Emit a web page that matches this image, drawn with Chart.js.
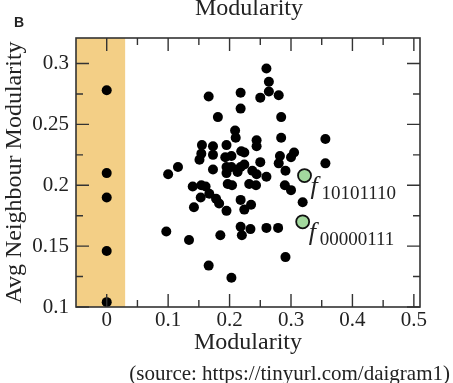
<!DOCTYPE html>
<html>
<head>
<meta charset="utf-8">
<script src="https://cdn.jsdelivr.net/npm/chart.js@4"></script>
<style>
  html, body { margin: 0; padding: 0; background: #fff; }
</style>
</head>
<body>
<canvas id="chart" width="453" height="383"></canvas>
<script>
// network modularity vs average modularity of neighbours
const modularity = [
  0, 0, 0, 0, 0,
  0.260, 0.264, 0.264, 0.250, 0.280, 0.166, 0.218, 0.218, 0.181, 0.284,
  0.209, 0.210, 0.284, 0.356, 0.244, 0.244, 0.155, 0.173, 0.195, 0.154,
  0.151, 0.173, 0.193, 0.203, 0.219, 0.224, 0.282, 0.305, 0.300, 0.250,
  0.280, 0.356, 0.116, 0.100, 0.173, 0.195, 0.203, 0.218, 0.224, 0.213,
  0.237, 0.244, 0.260, 0.291, 0.140, 0.154, 0.161, 0.153, 0.167, 0.178,
  0.183, 0.195, 0.142, 0.195, 0.197, 0.204, 0.232, 0.243, 0.218, 0.224,
  0.235, 0.290, 0.300, 0.319, 0.097, 0.134, 0.185, 0.218, 0.220, 0.234,
  0.260, 0.279, 0.291, 0.166, 0.203
];
const neighbourMod = [
  0.278, 0.210, 0.190, 0.146, 0.104,
  0.296, 0.285, 0.277, 0.272, 0.274, 0.273, 0.276, 0.263, 0.256, 0.256,
  0.245, 0.239, 0.239, 0.238, 0.237, 0.232, 0.233, 0.232, 0.233, 0.226,
  0.221, 0.225, 0.223, 0.224, 0.228, 0.227, 0.224, 0.227, 0.223, 0.219,
  0.218, 0.218, 0.215, 0.209, 0.213, 0.215, 0.215, 0.215, 0.217, 0.211,
  0.212, 0.209, 0.207, 0.212, 0.199, 0.200, 0.199, 0.190, 0.193, 0.189,
  0.185, 0.179, 0.182, 0.210, 0.201, 0.200, 0.201, 0.200, 0.188, 0.180,
  0.184, 0.200, 0.196, 0.186, 0.162, 0.155, 0.159, 0.166, 0.159, 0.164,
  0.165, 0.165, 0.141, 0.134, 0.124
];
const highlightX = [0.322, 0.319];
const highlightY = [0.208, 0.170];
const highlightNames = ['10101110', '00000111'];

const xTicks = [0, 0.1, 0.2, 0.3, 0.4, 0.5];
const xTickLabels = ['0', '0.1', '0.2', '0.3', '0.4', '0.5'];
const xMinor = [0.05, 0.15, 0.25, 0.35, 0.45];
const yTicks = [0.1, 0.15, 0.2, 0.25, 0.3];
const yTickLabels = ['0.1', '0.15', '0.2', '0.25', '0.3'];
const yMinor = [0.125, 0.175, 0.225, 0.275];
const zeroBand = [-0.05, 0.03];

const serif = "'Liberation Serif', 'Times New Roman', serif";
const ink = '#222';

const framePlugin = {
  id: 'frame',
  beforeDatasetsDraw(chart) {
    const { ctx, chartArea, scales } = chart;
    const x0 = scales.x.getPixelForValue(zeroBand[0]);
    const x1 = scales.x.getPixelForValue(zeroBand[1]);
    ctx.save();
    ctx.fillStyle = '#f3cf86';
    ctx.fillRect(x0, chartArea.top, x1 - x0, chartArea.bottom - chartArea.top);
    ctx.restore();
  },
  afterDatasetsDraw(chart) {
    const { ctx, chartArea: a, scales } = chart;
    ctx.save();
    ctx.strokeStyle = '#333';
    ctx.lineWidth = 1.4;
    ctx.beginPath();
    const tick = (vals, len) => {
      vals.forEach(v => {
        const px = scales.x.getPixelForValue(v);
        ctx.moveTo(px, a.bottom); ctx.lineTo(px, a.bottom - len);
        ctx.moveTo(px, a.top); ctx.lineTo(px, a.top + len);
      });
    };
    const ytick = (vals, len) => {
      vals.forEach(v => {
        const py = scales.y.getPixelForValue(v);
        ctx.moveTo(a.left, py); ctx.lineTo(a.left + len, py);
        ctx.moveTo(a.right, py); ctx.lineTo(a.right - len, py);
      });
    };
    tick(xTicks, 13);
    tick(xMinor, 7);
    ytick(yTicks, 13);
    ytick(yMinor, 7);
    ctx.stroke();
    ctx.lineWidth = 1.6;
    ctx.strokeRect(a.left, a.top, a.right - a.left, a.bottom - a.top);
    ctx.restore();
  },
  afterDraw(chart) {
    const { ctx, scales } = chart;
    ctx.save();
    ctx.fillStyle = ink;
    ctx.textBaseline = 'alphabetic';

    ctx.font = 'bold 14px "Liberation Sans", Arial, sans-serif';
    ctx.textAlign = 'left';
    ctx.fillText('B', 14, 27);

    ctx.font = '24px ' + serif;
    ctx.textAlign = 'center';
    ctx.fillText('Modularity', 249, 15);

    ctx.font = '21px ' + serif;
    ctx.textAlign = 'right';
    ctx.fillText('(source: https://tinyurl.com/daigram1)', 450, 380);

    // f labels next to the two highlighted networks
    ctx.textAlign = 'left';
    highlightNames.forEach((name, i) => {
      const px = scales.x.getPixelForValue(highlightX[i]);
      const py = scales.y.getPixelForValue(highlightY[i]);
      ctx.font = 'italic 26px ' + serif;
      ctx.fillText('f', px + 6, py + 18);
      ctx.font = '19px ' + serif;
      ctx.fillText(name, px + 17, py + 23);
    });
    ctx.restore();
  }
};

new Chart(document.getElementById('chart'), {
  type: 'scatter',
  data: {
    datasets: [{
      data: modularity.map((x, i) => ({ x: x, y: neighbourMod[i] })),
      backgroundColor: '#000',
      borderColor: '#000',
      pointRadius: 5,
      borderWidth: 0
    }, {
      data: highlightX.map((x, i) => ({ x: x, y: highlightY[i] })),
      backgroundColor: '#a3d99e',
      borderColor: '#111',
      pointRadius: 6.5,
      borderWidth: 1.8
    }]
  },
  options: {
    responsive: false,
    animation: false,
    devicePixelRatio: 1,
    layout: { padding: { top: 38, right: 33, bottom: 26, left: 0 } },
    plugins: {
      legend: { display: false },
      tooltip: { enabled: false }
    },
    scales: {
      x: {
        type: 'linear',
        min: -0.05,
        max: 0.51,
        grid: { display: false, drawTicks: false },
        border: { display: false },
        afterBuildTicks: s => { s.ticks = xTicks.map(v => ({ value: v })); },
        afterFit: s => { s.height = 50; },
        ticks: {
          autoSkip: false,
          maxRotation: 0,
          padding: 1,
          color: ink,
          font: { family: serif, size: 21 },
          callback: (v, i) => xTickLabels[i]
        },
        title: {
          display: true,
          text: 'Modularity',
          color: ink,
          padding: 0,
          font: { family: serif, size: 24 }
        }
      },
      y: {
        type: 'linear',
        min: 0.1,
        max: 0.321,
        grid: { display: false, drawTicks: false },
        border: { display: false },
        afterBuildTicks: s => { s.ticks = yTicks.map(v => ({ value: v })); },
        afterFit: s => { s.width = 76; },
        ticks: {
          autoSkip: false,
          padding: 7,
          color: ink,
          font: { family: serif, size: 21 },
          callback: (v, i) => yTickLabels[i]
        },
        title: {
          display: true,
          text: 'Avg Neighbour Modularity',
          color: ink,
          padding: 0,
          font: { family: serif, size: 24 }
        }
      }
    }
  },
  plugins: [framePlugin]
});
</script>
</body>
</html>
